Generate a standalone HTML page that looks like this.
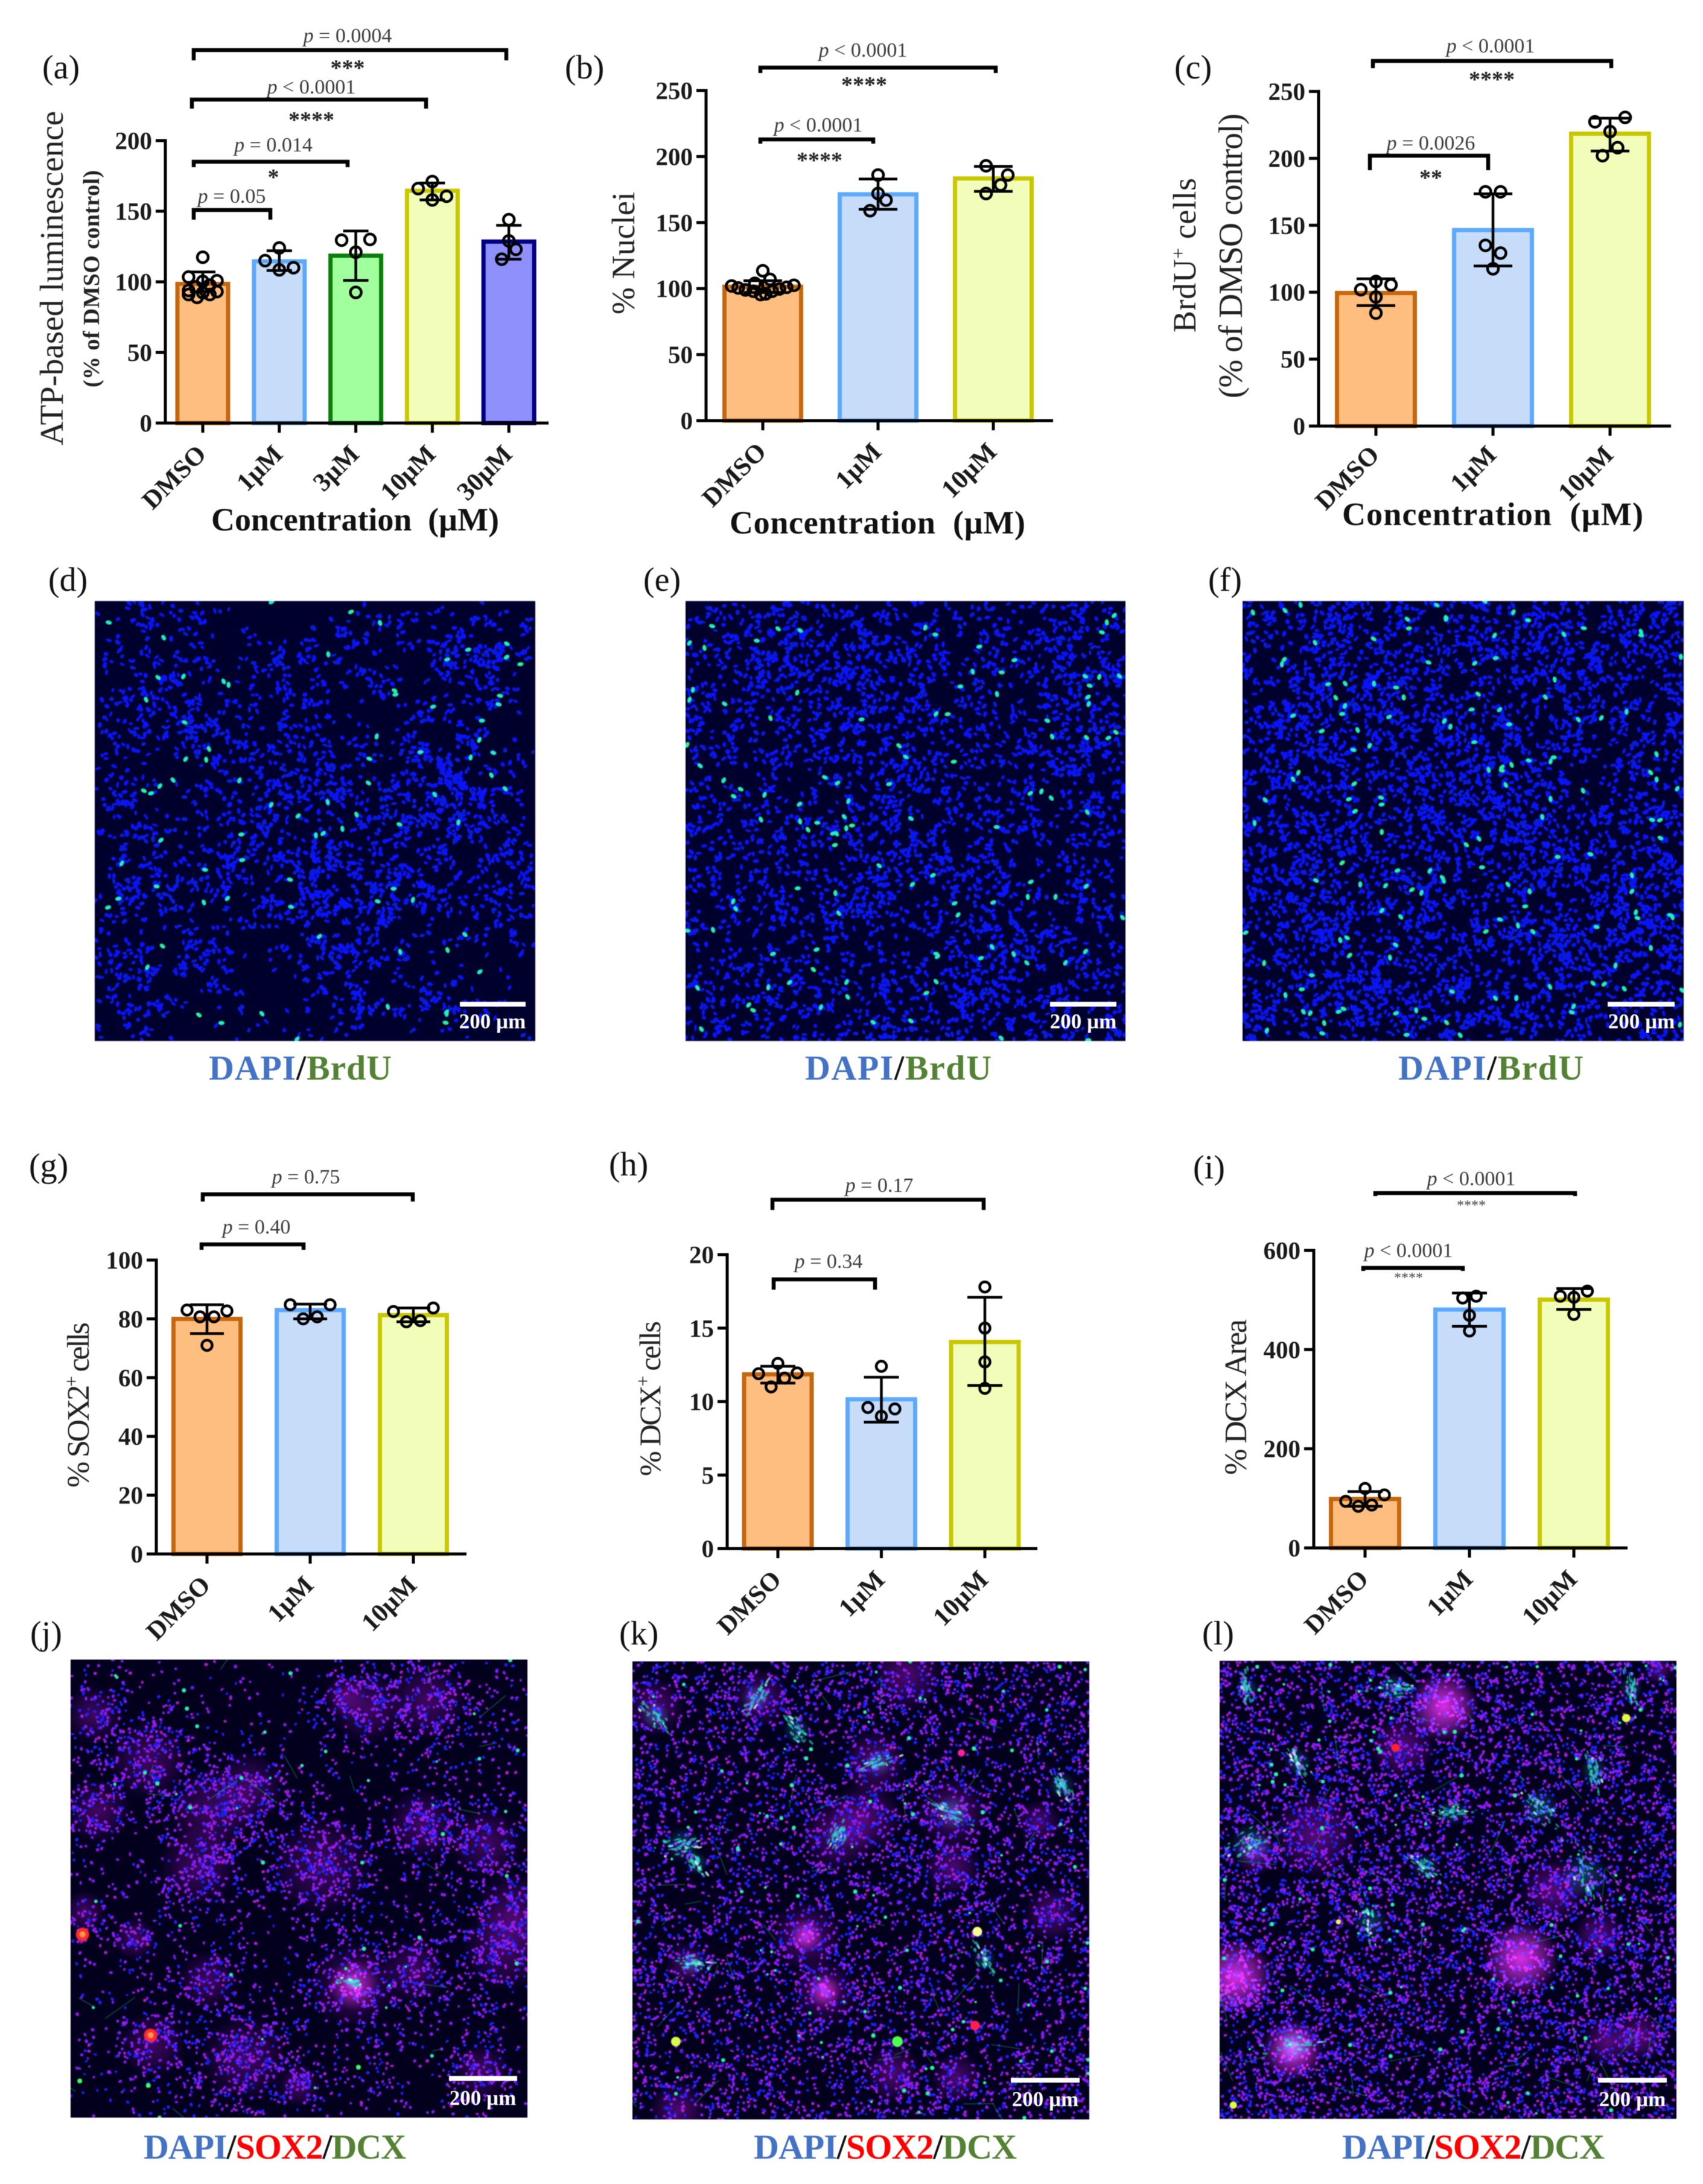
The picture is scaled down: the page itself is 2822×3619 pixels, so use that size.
<!DOCTYPE html>
<html lang="en">
<head>
<meta charset="utf-8">
<title>ATP, BrdU, SOX2 and DCX dose response figure</title>
<style>
html,body{margin:0;padding:0;background:#fff}
#figure{position:relative;width:2822px;height:3619px;overflow:hidden;background:#fff}
canvas{position:absolute;display:block;filter:blur(.9px)}
svg{position:absolute;left:0;top:0;filter:blur(.55px)}
text{font-family:"Liberation Serif",serif}
.pl{font-size:34px;fill:#3c3c3c;text-anchor:middle}
.st{font-size:38px;font-weight:bold;fill:#222;text-anchor:middle}
.st2{font-size:24px;fill:#444;text-anchor:middle}
.br{fill:none;stroke:#000;stroke-width:6.5}
.pn{font-size:56px;fill:#111}
.xt{font-size:54px;font-weight:bold;fill:#111}
.yt{font-size:54px;fill:#222}
.cap{font-size:58px;font-weight:bold}
.sb{font-size:35px;font-weight:bold;fill:#fff}
</style>
</head>
<body>
<div id="figure">
<canvas id="img-d" width="730" height="729" style="left:157px;top:996px"></canvas>
<canvas id="img-e" width="729" height="729" style="left:1136px;top:996px"></canvas>
<canvas id="img-f" width="731" height="729" style="left:2059px;top:996px"></canvas>
<canvas id="img-j" width="757" height="759" style="left:117px;top:2750px"></canvas>
<canvas id="img-k" width="757" height="759" style="left:1048px;top:2753px"></canvas>
<canvas id="img-l" width="757" height="759" style="left:2021px;top:2752px"></canvas>
<svg id="chart-layer" width="2822" height="3619" viewBox="0 0 2822 3619" xmlns="http://www.w3.org/2000/svg">

<g>
<text class="pn" x="70" y="130">(a)</text>
<text class="pn" x="936" y="130">(b)</text>
<text class="pn" x="1946" y="130">(c)</text>
<text class="pn" x="80" y="979">(d)</text>
<text class="pn" x="1066" y="979">(e)</text>
<text class="pn" x="2002" y="979">(f)</text>
<text class="pn" x="48" y="1950">(g)</text>
<text class="pn" x="1009" y="1948">(h)</text>
<text class="pn" x="1977" y="1953">(i)</text>
<text class="pn" x="50" y="2725">(j)</text>
<text class="pn" x="1026" y="2725">(k)</text>
<text class="pn" x="1992" y="2725">(l)</text>
</g>

<g id="panel-a"></g>
<g id="panel-b"></g>
<g id="panel-c"></g>
<g id="panel-g"></g>
<g id="panel-h"></g>
<g id="panel-i"></g>

<g>
<text transform="translate(104,738) rotate(-90)" class="yt" style="font-size:55px" textLength="554">ATP-based luminescence</text>
<text transform="translate(164,642) rotate(-90)" style="font-size:38px" font-weight="bold" fill="#222" textLength="360">(% of DMSO control)</text>
<text class="xt" x="350" y="879" textLength="477">Concentration&#160; (µM)</text>
<path class="br" d="M321 100V83H839V100"/>
<text class="pl" x="576" y="70"><tspan font-style="italic">p</tspan> = 0.0004</text>
<text class="st" x="576" y="125">***</text>
<path class="br" d="M318 180V165H706V180"/>
<text class="pl" x="516" y="155"><tspan font-style="italic">p</tspan> &lt; 0.0001</text>
<text class="st" x="516" y="211">****</text>
<path class="br" d="M321 277V268H576V277"/>
<text class="pl" x="453" y="251"><tspan font-style="italic">p</tspan> = 0.014</text>
<text class="st" x="453" y="306">*</text>
<path class="br" d="M321 364V348H448V364"/>
<text class="pl" x="384" y="336"><tspan font-style="italic">p</tspan> = 0.05</text>
</g>

<g>
<text transform="translate(1051,521) rotate(-90)" class="yt" textLength="203">% Nuclei</text>
<text class="xt" x="1209" y="884" textLength="490">Concentration&#160; (µM)</text>
<path class="br" d="M1260 121V112H1650V121"/>
<text class="pl" x="1430" y="94"><tspan font-style="italic">p</tspan> &lt; 0.0001</text>
<text class="st" x="1432" y="153">****</text>
<path class="br" d="M1260 238V231H1447V238"/>
<text class="pl" x="1356" y="218"><tspan font-style="italic">p</tspan> &lt; 0.0001</text>
<text class="st" x="1358" y="278">****</text>
</g>

<g>
<text transform="translate(1981,551) rotate(-90)" class="yt" textLength="256">BrdU<tspan dy="-18" style="font-size:32px">+</tspan><tspan dy="18"> cells</tspan></text>
<text transform="translate(2058,660) rotate(-90)" class="yt" style="font-size:56px" textLength="472">(% of DMSO control)</text>
<text class="xt" x="2224" y="870" textLength="499">Concentration&#160; (µM)</text>
<path class="br" d="M2275 113V101H2670V113"/>
<text class="pl" x="2470" y="87"><tspan font-style="italic">p</tspan> &lt; 0.0001</text>
<text class="st" x="2472" y="144">****</text>
<path class="br" d="M2270 282V258H2466V282"/>
<text class="pl" x="2371" y="248"><tspan font-style="italic">p</tspan> = 0.0026</text>
<text class="st" x="2371" y="307">**</text>
</g>

<g>
<text transform="translate(147,2465) rotate(-90)" class="yt" style="font-size:52px" textLength="274">% SOX2<tspan dy="-18" style="font-size:32px">+</tspan><tspan dy="18"> cells</tspan></text>
<path class="br" d="M336 1991V1979H684V1991"/>
<text class="pl" x="507" y="1961"><tspan font-style="italic">p</tspan> = 0.75</text>
<path class="br" d="M334 2071V2062H503V2071"/>
<text class="pl" x="425" y="2044"><tspan font-style="italic">p</tspan> = 0.40</text>
</g>

<g>
<text transform="translate(1094,2446) rotate(-90)" class="yt" style="font-size:50px" textLength="257">% DCX<tspan dy="-18" style="font-size:32px">+</tspan><tspan dy="18"> cells</tspan></text>
<path class="br" d="M1280 2005V1988H1630V2005"/>
<text class="pl" x="1457" y="1975"><tspan font-style="italic">p</tspan> = 0.17</text>
<path class="br" d="M1282 2137V2120H1450V2137"/>
<text class="pl" x="1373" y="2101"><tspan font-style="italic">p</tspan> = 0.34</text>
</g>

<g>
<text transform="translate(2065,2444) rotate(-90)" class="yt" style="font-size:52px" textLength="258">% DCX Area</text>
<path class="br" d="M2279 1982V1977H2610V1982"/>
<text class="pl" x="2438" y="1964"><tspan font-style="italic">p</tspan> &lt; 0.0001</text>
<text class="st2" x="2438" y="2005">****</text>
<path class="br" d="M2259 2106V2101H2424V2106"/>
<text class="pl" x="2334" y="2083"><tspan font-style="italic">p</tspan> &lt; 0.0001</text>
<text class="st2" x="2334" y="2125">****</text>
</g>

<g>
<rect x="762" y="1660" width="109" height="8" fill="#fff"/>
<text class="sb" x="816" y="1704" text-anchor="middle">200 µm</text>
<rect x="1740" y="1660" width="110" height="8" fill="#fff"/>
<text class="sb" x="1795" y="1704" text-anchor="middle">200 µm</text>
<rect x="2664" y="1660" width="111" height="8" fill="#fff"/>
<text class="sb" x="2720" y="1704" text-anchor="middle">200 µm</text>
<rect x="744" y="3440" width="113" height="8" fill="#fff"/>
<text class="sb" x="800" y="3488" text-anchor="middle">200 µm</text>
<rect x="1675" y="3443" width="114" height="8" fill="#fff"/>
<text class="sb" x="1732" y="3490" text-anchor="middle">200 µm</text>
<rect x="2648" y="3443" width="114" height="8" fill="#fff"/>
<text class="sb" x="2705" y="3490" text-anchor="middle">200 µm</text>
</g>

<g>
<text class="cap" x="346" y="1789" textLength="303"><tspan fill="#4472c4">DAPI</tspan><tspan fill="#111">/</tspan><tspan fill="#548235">BrdU</tspan></text>
<text class="cap" x="1334" y="1789" textLength="309"><tspan fill="#4472c4">DAPI</tspan><tspan fill="#111">/</tspan><tspan fill="#548235">BrdU</tspan></text>
<text class="cap" x="2317" y="1789" textLength="307"><tspan fill="#4472c4">DAPI</tspan><tspan fill="#111">/</tspan><tspan fill="#548235">BrdU</tspan></text>
<text class="cap" x="238" y="3577" textLength="435"><tspan fill="#4472c4">DAPI</tspan><tspan fill="#111">/</tspan><tspan fill="#ff0000">SOX2</tspan><tspan fill="#111">/</tspan><tspan fill="#548235">DCX</tspan></text>
<text class="cap" x="1249" y="3577" textLength="436"><tspan fill="#4472c4">DAPI</tspan><tspan fill="#111">/</tspan><tspan fill="#ff0000">SOX2</tspan><tspan fill="#111">/</tspan><tspan fill="#548235">DCX</tspan></text>
<text class="cap" x="2224" y="3577" textLength="435"><tspan fill="#4472c4">DAPI</tspan><tspan fill="#111">/</tspan><tspan fill="#ff0000">SOX2</tspan><tspan fill="#111">/</tspan><tspan fill="#548235">DCX</tspan></text>
</g>
</svg>
</div>

<script>
/* ---------- chart data ---------- */
const panelACategories = ['DMSO','1µM','3µM','10µM','30µM'];
const panelAMeans = [100,116,120,166,130];
const panelAErrHigh = [107,122,136,170,140];
const panelAErrLow = [93,108,101,158,116];
const panelATicks = [0,50,100,150,200];
const panelAPoints = [
  [117.4,103.4,100.8,100.3,97.7,96.4,93.9,93.1,92.3,91,89,91],
  [124,115,110,108.5],
  [130,129.5,121,92.5],
  [171,166,160.6,158],
  [144,129,123,116]
];
const panelALanes = [
  [0,-1,1,0,.5,-.5,-1,1,0,.5,-.4,-1],
  [0,-1,1,0],
  [1,-1,0,0],
  [0,-1,1,0],
  [0,0,.5,-.5]
];

const panelBCategories = ['DMSO','1µM','10µM'];
const panelBMeans = [103,173,185];
const panelBErrHigh = [106,183,192.5];
const panelBErrLow = [97,160,173.6];
const panelBTicks = [0,50,100,150,200,250];
const panelBPoints = [
  [113.5,107,104,102.5,102,101,100.5,99.7,99,98,98,96,95.5],
  [186,172,167,159],
  [193,186,178.5,172]
];
const panelBLanes = [
  [0,1,-1.1,4.3,-4.3,3.3,-3.4,2.3,-2.4,1.3,-1.3,.4,-.3],
  [0,0,1.1,-1.1],
  [-1,2,1,-1]
];

const panelCCategories = ['DMSO','1µM','10µM'];
const panelCMeans = [101,148,220];
const panelCErrHigh = [110,173.5,230];
const panelCErrLow = [90,119.6,205.5];
const panelCTicks = [0,50,100,150,200,250];
const panelCPoints = [
  [108,105.5,101.9,96.4,84.4],
  [175,175,135,129.2,117.5],
  [230.6,227.3,220,208,202]
];
const panelCLanes = [
  [0,1,-1,0,0],
  [-.5,.5,-.5,.5,0],
  [1,-1,0,.5,-.5]
];

const panelGCategories = ['DMSO','1µM','10µM'];
const panelGMeans = [80.7,83.7,82];
const panelGErrHigh = [84.8,85,83.7];
const panelGErrLow = [75,80,79];
const panelGTicks = [0,20,40,60,80,100];
const panelGPoints = [
  [83,82.7,80.7,80.7,71],
  [84.8,84.8,80,80.7],
  [82.5,83.7,79,79.4]
];
const panelGLanes = [
  [-1,1,-.35,.35,0],
  [-1,1,-.35,.35],
  [-1,1,-.35,.35]
];

const panelHCategories = ['DMSO','1µM','10µM'];
const panelHMeans = [12,10.3,14.2];
const panelHErrHigh = [12.4,11.66,17.1];
const panelHErrLow = [11.26,8.6,11.1];
const panelHTicks = [0,5,10,15,20];
const panelHPoints = [
  [12.6,11.9,11.95,11.6,11],
  [12.4,9.6,9.5,9],
  [17.8,15,12.7,10.9]
];
const panelHLanes = [
  [0,-1,1,.35,-.35],
  [0,-.7,.7,0],
  [0,0,0,0]
];

const panelICategories = ['DMSO','1µM','10µM'];
const panelIMeans = [103,485,505];
const panelIErrHigh = [113.7,514,523];
const panelIErrLow = [84,447,481];
const panelITicks = [0,200,400,600];
const panelIPoints = [
  [120,107,94,84,86.6],
  [504,507.6,469,437.5],
  [518,507.6,505.6,471]
];
const panelILanes = [
  [0,1,-1,-.35,.35],
  [-.35,.35,0,0],
  [.7,-.7,0,0]
];

/* ---------- chart drawing ---------- */
const SVG_NS = 'http://www.w3.org/2000/svg';
const barStyles = {
  'DMSO': {fill:'#fdbe80', stroke:'#c4670f'},
  '1µM': {fill:'#c7dcf8', stroke:'#5da9fc'},
  '3µM': {fill:'#a2ff9e', stroke:'#0b7f0b'},
  '10µM': {fill:'#f2fdb9', stroke:'#c9c800'},
  '30µM': {fill:'#9090fd', stroke:'#000080'}
};

function svgEl(parent, tag, attrs) {
  const e = document.createElementNS(SVG_NS, tag);
  for (const k in attrs) e.setAttribute(k, attrs[k]);
  parent.appendChild(e);
  return e;
}

function drawChart(id, frame, categories, means, errHigh, errLow, points, lanes, ticks) {
  const g = document.getElementById(id);
  const yMax = ticks[ticks.length - 1];
  const yScale = v => frame.y0 - (v / yMax) * (frame.y0 - frame.yTop);
  const xScale = i => frame.first + i * frame.step;
  const sw = 7;

  categories.forEach((cat, i) => {
    const cx = xScale(i);
    const top = yScale(means[i]);
    const style = barStyles[cat];
    const bar = svgEl(g, 'rect', {
      x: cx - frame.barW / 2 + sw / 2, y: top + sw / 2,
      width: frame.barW - sw, height: frame.y0 - top - sw / 2,
      fill: style.fill, stroke: style.stroke, 'stroke-width': sw
    });
    
    
  });

  const yAxis = svgEl(g, 'line', {x1: frame.axisX, x2: frame.axisX, y1: yScale(yMax) - 2.5, y2: frame.y0 + 2.5, stroke: '#000', 'stroke-width': 5});
  
  
  const xAxis = svgEl(g, 'line', {x1: frame.axisX - 16, x2: frame.axisEnd, y1: frame.y0, y2: frame.y0, stroke: '#000', 'stroke-width': 5});
  
  

  ticks.forEach(t => {
    const y = yScale(t);
    const tick = svgEl(g, 'line', {x1: frame.axisX - 16, x2: frame.axisX, y1: y, y2: y, stroke: '#000', 'stroke-width': 5});
    
    
    const label = svgEl(g, 'text', {x: frame.axisX - 22, y: y + 14, 'text-anchor': 'end', 'font-size': 41, 'font-weight': 'bold', fill: '#1a1a1a'});
    
    
    label.textContent = t;
  });

  categories.forEach((cat, i) => {
    const cx = xScale(i);
    const tick = svgEl(g, 'line', {x1: cx, x2: cx, y1: frame.y0, y2: frame.y0 + 16, stroke: '#000', 'stroke-width': 5});
    
    
    const ax = cx + 8, ay = frame.y0 + frame.labelDrop;
    const label = svgEl(g, 'text', {
      x: ax, y: ay, 'text-anchor': 'end', 'font-size': 43, 'font-weight': 'bold', fill: '#1a1a1a',
      transform: 'rotate(-45 ' + ax + ' ' + ay + ')'
    });
    
    
    label.textContent = cat;

    const hi = yScale(errHigh[i]), lo = yScale(errLow[i]);
    const stem = svgEl(g, 'line', {x1: cx, x2: cx, y1: hi, y2: lo, stroke: '#000', 'stroke-width': 4.5});
    
    
    const capHigh = svgEl(g, 'line', {x1: cx - frame.capW, x2: cx + frame.capW, y1: hi, y2: hi, stroke: '#000', 'stroke-width': 4.5});
    
    
    const capLow = svgEl(g, 'line', {x1: cx - frame.capW, x2: cx + frame.capW, y1: lo, y2: lo, stroke: '#000', 'stroke-width': 4.5});
    
    

    points[i].forEach((v, k) => {
      const dot = svgEl(g, 'circle', {
        cx: cx + lanes[i][k] * frame.laneW, cy: yScale(v), r: frame.r,
        fill: 'none', stroke: '#000', 'stroke-width': 4.5
      });
      
      
    });
  });
}

drawChart('panel-a', {axisX:274, axisEnd:909, y0:701, yTop:233, first:336, step:126.8, barW:91, laneW:23.5, capW:21, r:9, labelDrop:54},
  panelACategories, panelAMeans, panelAErrHigh, panelAErrLow, panelAPoints, panelALanes, panelATicks);
drawChart('panel-b', {axisX:1170, axisEnd:1745, y0:697, yTop:150, first:1264, step:191, barW:134, laneW:12, capW:32, r:9, labelDrop:54},
  panelBCategories, panelBMeans, panelBErrHigh, panelBErrLow, panelBPoints, panelBLanes, panelBTicks);
drawChart('panel-c', {axisX:2185, axisEnd:2769, y0:706, yTop:151.5, first:2280, step:194, barW:136, laneW:25, capW:32, r:9, labelDrop:50},
  panelCCategories, panelCMeans, panelCErrHigh, panelCErrLow, panelCPoints, panelCLanes, panelCTicks);
drawChart('panel-g', {axisX:259, axisEnd:773, y0:2575, yTop:2088, first:343, step:171, barW:118, laneW:33, capW:28, r:8.5, labelDrop:54},
  panelGCategories, panelGMeans, panelGErrHigh, panelGErrLow, panelGPoints, panelGLanes, panelGTicks);
drawChart('panel-h', {axisX:1205, axisEnd:1719, y0:2566, yTop:2079, first:1289, step:171.5, barW:119, laneW:32, capW:29, r:8.5, labelDrop:54},
  panelHCategories, panelHMeans, panelHErrHigh, panelHErrLow, panelHPoints, panelHLanes, panelHTicks);
drawChart('panel-i', {axisX:2177, axisEnd:2697, y0:2565, yTop:2072, first:2262, step:173, barW:120, laneW:32, capW:29, r:8.5, labelDrop:54},
  panelICategories, panelIMeans, panelIErrHigh, panelIErrLow, panelIPoints, panelILanes, panelITicks);

/* ---------- micrograph textures (procedural, not chart data) ---------- */
function prng(seed) {
  let a = seed >>> 0;
  return function () {
    a = (a + 0x6D2B79F5) >>> 0;
    let t = a;
    t = Math.imul(t ^ (t >>> 15), t | 1);
    t ^= t + Math.imul(t ^ (t >>> 7), t | 61);
    return ((t ^ (t >>> 14)) >>> 0) / 4294967296;
  };
}
function clumpField(rnd, n, floor, thr) {
  const g = [];
  for (let i = 0; i < (n + 2) * (n + 2); i++) g.push(rnd());
  return function (x, y) {
    const fx = x * n, fy = y * n, ix = Math.floor(fx), iy = Math.floor(fy), tx = fx - ix, ty = fy - iy;
    const at = (a, b) => g[b * (n + 2) + a];
    const v = (at(ix, iy) * (1 - tx) + at(ix + 1, iy) * tx) * (1 - ty) + (at(ix, iy + 1) * (1 - tx) + at(ix + 1, iy + 1) * tx) * ty;
    const s = Math.max(0, Math.min(1, (v - thr) / .12));
    return floor + (1 - floor) * s;
  };
}
function densityFn(base, spots, clump) {
  return function (x, y) {
    let d = base;
    for (const s of spots) {
      const dx = x - s[0], dy = y - s[1];
      d += s[3] * Math.exp(-(dx * dx + dy * dy) / (2 * s[2] * s[2]));
    }
    return Math.max(0, Math.min(1, d)) * clump(x, y);
  };
}
function nuclei(ctx, W, H, rnd, dens, tries, rx, ry, colorFn) {
  for (let i = 0; i < tries; i++) {
    const x = rnd(), y = rnd();
    if (rnd() > dens(x, y)) continue;
    ctx.fillStyle = colorFn(rnd, x, y);
    ctx.beginPath();
    ctx.ellipse(x * W, y * H, rx * (.75 + rnd() * .5), ry * (.75 + rnd() * .5), rnd() * Math.PI, 0, 7);
    ctx.fill();
  }
}
function blob(ctx, W, H, s, rgb, alpha, scale) {
  const cx = s[0] * W, cy = s[1] * H, r = s[2] * W * scale;
  const g = ctx.createRadialGradient(cx, cy, 0, cx, cy, r);
  g.addColorStop(0, 'rgba(' + rgb + ',' + alpha + ')');
  g.addColorStop(.55, 'rgba(' + rgb + ',' + alpha * .5 + ')');
  g.addColorStop(1, 'rgba(' + rgb + ',0)');
  ctx.fillStyle = g;
  ctx.fillRect(cx - r, cy - r, r * 2, r * 2);
}
function speckle(ctx, W, H, rnd, s) {
  const spread = s[2] * W * 2;
  const angle = rnd() * Math.PI;
  for (let i = 0; i < 34; i++) {
    const u = (rnd() + rnd() + rnd() - 1.5) * spread * 1.5;
    const v = (rnd() + rnd() + rnd() - 1.5) * spread * .55;
    const px = s[0] * W + u * Math.cos(angle) - v * Math.sin(angle);
    const py = s[1] * H + u * Math.sin(angle) + v * Math.cos(angle);
    ctx.fillStyle = rnd() < .85 ? 'rgba(50,225,210,.6)' : 'rgba(220,255,255,.8)';
    ctx.beginPath();
    ctx.ellipse(px, py, 1.5 + rnd() * 4, 1.2 + rnd() * 1.2, angle, 0, 7);
    ctx.fill();
  }
}

function paintBrdU(id, seed, base, spots, tries, greens, clumpN, floor, thr) {
  const c = document.getElementById(id), ctx = c.getContext('2d'), W = c.width, H = c.height;
  const rnd = prng(seed);
  ctx.fillStyle = '#00002c';
  ctx.fillRect(0, 0, W, H);
  nuclei(ctx, W, H, rnd, densityFn(base, spots, clumpField(rnd, clumpN, floor, thr)), tries, 4.4, 2.9, () => rnd() < .75 ? '#0a14f6' : '#0a1cd8');
  for (let i = 0; i < greens; i++) {
    ctx.fillStyle = rnd() < .8 ? '#22eec4' : '#2cf0a0';
    ctx.beginPath();
    ctx.ellipse(rnd() * W, rnd() * H, 5.2, 3.4, rnd() * Math.PI, 0, 7);
    ctx.fill();
  }
}

function paintSox(id, seed, cfg) {
  const c = document.getElementById(id), ctx = c.getContext('2d'), W = c.width, H = c.height;
  const rnd = prng(seed);
  ctx.fillStyle = '#03001e';
  ctx.fillRect(0, 0, W, H);
  ctx.globalCompositeOperation = 'lighter';
  cfg.blobs.forEach(s => blob(ctx, W, H, s, '150,20,170', cfg.blobAlpha, 1.6));
  ctx.globalCompositeOperation = 'source-over';
  const spots = cfg.blobs.map(s => [s[0], s[1], s[2], cfg.blobDensity]).concat(cfg.extra);
  nuclei(ctx, W, H, rnd, densityFn(cfg.base, spots, clumpField(rnd, cfg.clumpN, cfg.floor, cfg.thr)), cfg.tries, 2.7, 2.3, (r) => {
    const v = r();
    return v < cfg.purple ? '#8a1df0' : v < cfg.purple + .1 ? '#b01cd0' : '#2020f4';
  });
  ctx.globalCompositeOperation = 'lighter';
  cfg.hot.forEach(s => blob(ctx, W, H, s, '255,70,220', .5, 1.9));
  cfg.cyan.forEach(s => blob(ctx, W, H, s, '40,190,190', .3, 2.2));
  ctx.globalCompositeOperation = 'source-over';
  cfg.cyan.forEach(s => speckle(ctx, W, H, rnd, s));
  ctx.strokeStyle = 'rgba(40,210,120,.45)';
  ctx.lineWidth = 1.3;
  for (let i = 0; i < cfg.fibers; i++) {
    const x = rnd() * W, y = rnd() * H, a = rnd() * 6.28, l = 18 + rnd() * 50;
    ctx.beginPath();
    ctx.moveTo(x, y);
    ctx.lineTo(x + Math.cos(a) * l, y + Math.sin(a) * l);
    ctx.stroke();
  }
  ctx.fillStyle = '#2cf0b0';
  for (let i = 0; i < cfg.dots; i++) {
    ctx.beginPath();
    ctx.arc(rnd() * W, rnd() * H, 2 + rnd() * 1.6, 0, 7);
    ctx.fill();
  }
  cfg.red.forEach(s => {
    ctx.fillStyle = s[3];
    ctx.beginPath();
    ctx.arc(s[0] * W, s[1] * H, s[2], 0, 7);
    ctx.fill();
  });
}

paintBrdU('img-d', 11, .05, [
  [.13,.08,.07,.8],[.1,.25,.06,.8],[.25,.22,.05,.8],[.27,.32,.05,.8],[.3,.2,.04,.6],[.45,.13,.05,.7],[.46,.27,.05,.7],
  [.62,.1,.05,.8],[.65,.27,.05,.6],[.8,.13,.06,.7],[.92,.1,.05,.7],[.88,.2,.05,.6],[.78,.33,.06,.8],[.73,.47,.07,.9],
  [.85,.42,.07,.9],[.8,.5,.06,.9],[.38,.38,.05,.7],[.4,.48,.04,.6],[.53,.42,.05,.7],[.05,.45,.04,.6],[.1,.5,.05,.7],
  [.25,.55,.05,.6],[.37,.5,.04,.6],[.48,.65,.07,.9],[.55,.6,.05,.8],[.75,.67,.06,.8],[.65,.62,.05,.8],[.6,.68,.05,.8],
  [.9,.55,.05,.6],[.95,.62,.04,.7],[.3,.65,.05,.7],[.07,.65,.05,.7],[.18,.67,.05,.6],[.53,.78,.05,.7],[.63,.77,.05,.7],
  [.77,.9,.04,.6],[.1,.83,.06,.8],[.25,.83,.04,.7],[.6,.92,.05,.7],[.3,.92,.03,.5],[.88,.75,.04,.6],[.95,.75,.03,.5],
  [.83,.92,.03,.5],[.9,.95,.03,.5],[.1,.95,.04,.5]
], 8200, 80, 44, .08, .36);
paintBrdU('img-e', 22, .5, [
  [.4,.2,.07,.45],[.13,.1,.06,.2],[.3,.1,.05,.2],[.22,.42,.05,-.25],[.12,.6,.05,-.15],[.3,.5,.05,.1],[.48,.52,.05,.2],
  [.6,.55,.05,.3],[.38,.72,.05,.3],[.7,.65,.06,.25],[.68,.85,.06,.35],[.85,.38,.05,.25],[.88,.15,.06,.25],[.2,.08,.04,.2],
  [.62,.18,.04,-.2],[.75,.25,.05,-.3],[.33,.6,.04,-.25],[.14,.78,.04,-.3],[.55,.7,.04,-.15],[.78,.85,.05,-.2],[.92,.65,.05,.15]
], 9200, 110, 56, .2, .34);
paintBrdU('img-f', 33, .6, [
  [.1,.27,.06,.3],[.2,.28,.04,.25],[.35,.2,.05,.2],[.43,.42,.06,.35],[.62,.47,.07,.35],[.12,.6,.05,.3],[.72,.72,.08,.4],
  [.85,.72,.06,.3],[.4,.68,.05,.2],[.3,.85,.06,.25],[.55,.85,.06,.2],[.72,.1,.05,.15],[.03,.2,.04,-.3],[.1,.09,.04,-.2],
  [.5,.24,.04,-.3],[.33,.52,.04,-.3],[.52,.62,.04,-.3],[.05,.72,.05,-.2],[.82,.4,.05,-.2],[.92,.25,.05,-.2]
], 9800, 145, 60, .22, .32);

paintSox('img-j', 44, {
  base:.1, tries:21000, blobAlpha:.4, blobDensity:.85, purple:.55, fibers:18, dots:45, clumpN:70, floor:.1, thr:.36,
  blobs:[[.65,.105,.05],[.78,.09,.055],[.77,.36,.05],[.91,.4,.05],[.97,.55,.055],[.95,.63,.06],[.62,.71,.06],[.39,.28,.05],
         [.31,.33,.06],[.28,.45,.055],[.55,.45,.07],[.06,.33,.045],[.17,.22,.055],[.18,.84,.045],[.38,.87,.06],[.75,.68,.045],
         [.03,.55,.03],[.14,.61,.03],[.6,.08,.03],[.3,.7,.04],[.9,.9,.04],[.05,.12,.04],[.5,.93,.03]],
  extra:[[.85,.12,.05,.3],[.7,.88,.05,.2],[.28,.95,.04,.2],[.9,.78,.04,.2]],
  hot:[[.62,.71,.03]], cyan:[[.615,.705,.008]],
  red:[[.026,.6,11,'#ff2a30'],[.175,.82,11,'#ff2a30'],[.026,.6,5,'#ff9a50'],[.175,.82,5,'#ff9a50'],[.02,.92,4,'#40ff60'],[.17,.93,4,'#40ff60'],[.63,.89,4,'#40ff60']]
});
paintSox('img-k', 55, {
  base:.5, tries:17000, blobAlpha:.48, blobDensity:.3, purple:.5, fibers:40, dots:95, clumpN:70, floor:.18, thr:.34,
  blobs:[[.7,.33,.05],[.51,.34,.05],[.45,.38,.05],[.53,.22,.045],[.38,.6,.05],[.42,.72,.045],[.57,.9,.04],[.71,.91,.035],
         [.92,.55,.04],[.89,.35,.03],[.6,.03,.05],[.28,.08,.04],[.05,.1,.04],[.7,.45,.04],[.1,.98,.04],[.12,.66,.03]],
  extra:[[.12,.5,.05,-.2],[.25,.3,.05,-.2],[.8,.2,.05,-.2],[.3,.55,.05,-.2],[.8,.7,.05,-.25]],
  hot:[[.38,.6,.02],[.42,.72,.02]],
  cyan:[[.7,.33,.018],[.11,.4,.018],[.94,.27,.014],[.14,.44,.012],[.36,.15,.014],[.54,.22,.014],[.45,.38,.012],[.27,.08,.014],[.05,.12,.014],[.13,.66,.012],[.77,.65,.012]],
  red:[[.75,.795,8,'#ff2050'],[.095,.83,8,'#d8ff50'],[.58,.83,9,'#50ff50'],[.755,.59,8,'#f8ff90'],[.72,.2,6,'#ff20a0']]
});
paintSox('img-l', 66, {
  base:.6, tries:19000, blobAlpha:.55, blobDensity:.25, purple:.5, fibers:50, dots:100, clumpN:70, floor:.2, thr:.32,
  blobs:[[.49,.1,.05],[.66,.65,.05],[.035,.69,.05],[.16,.85,.045],[.83,.6,.035],[.21,.38,.06],[.4,.19,.045],[.73,.5,.045],[.85,.83,.035],[.92,.82,.035],[.08,.42,.03],[.96,.02,.02]],
  extra:[[.15,.1,.05,-.25],[.5,.8,.05,-.15],[.93,.15,.04,-.2],[.93,.4,.05,-.15]],
  hot:[[.66,.65,.045],[.49,.1,.04],[.035,.69,.045],[.16,.85,.035]],
  cyan:[[.07,.4,.022],[.7,.32,.02],[.51,.33,.014],[.33,.57,.018],[.8,.47,.024],[.45,.45,.014],[.38,.06,.016],[.16,.84,.018],[.17,.22,.014],[.06,.06,.012],[.82,.24,.014],[.9,.06,.012]],
  red:[[.385,.19,7,'#ff2030'],[.89,.125,7,'#e0ff40'],[.03,.97,6,'#e0ff40'],[.26,.57,4,'#f0ff60']]
});
</script>
</body>
</html>
